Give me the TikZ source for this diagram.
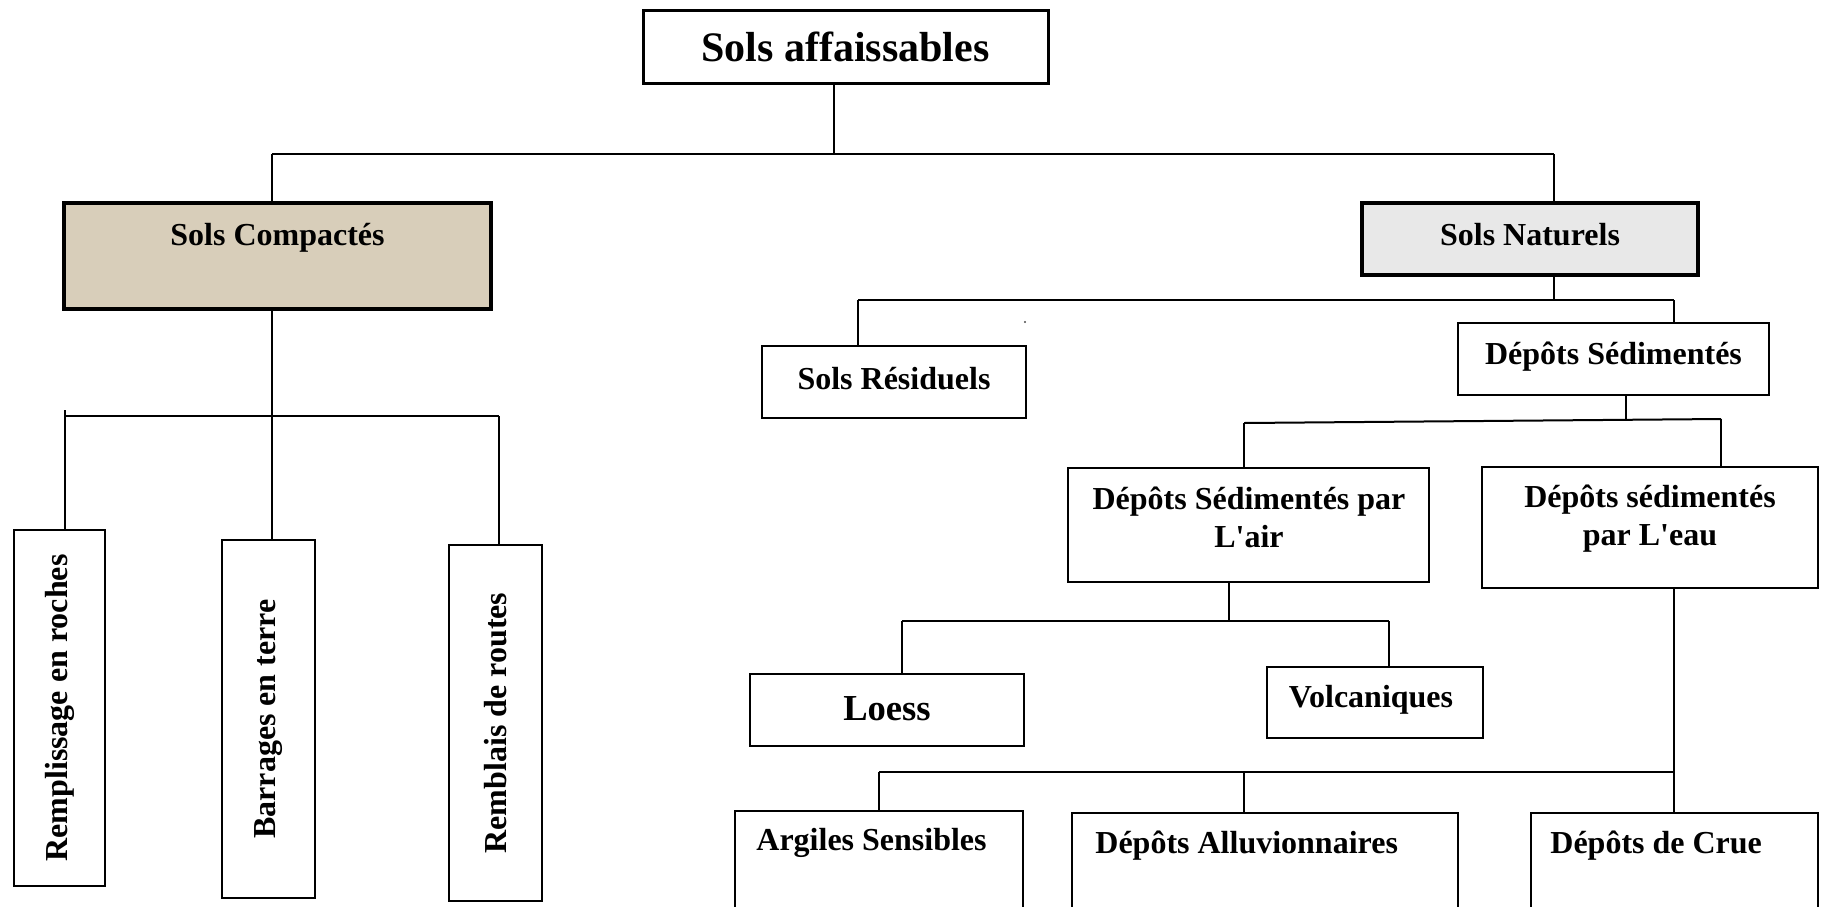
\documentclass[tikz,border=0pt]{standalone}
\usepackage{fontspec}
\setmainfont{Liberation Serif}
\definecolor{beige}{RGB}{216,206,186}
\definecolor{natgray}{RGB}{232,232,232}
\begin{document}
\begin{tikzpicture}[x=0.5pt,y=-0.5pt,
  box/.style={draw, line width=1pt, inner sep=0pt, rectangle},
  lnk/.style={line width=1pt},
  txt/.style={font=\fontsize{16}{19}\selectfont\bfseries, inner sep=0pt, align=center},
  vtxt/.style={txt, rotate=90},
]
\useasboundingbox (0,0) rectangle (1821,906);
\clip (0,0) rectangle (1821,906);
\fill[white] (0,0) rectangle (1821,906);

% boxes
\node[box, line width=1.5pt, minimum width=202.5pt, minimum height=36.5pt] (top) at (845.5,46.5) {};
\node[box, line width=2pt, fill=beige, minimum width=213.5pt, minimum height=53pt] (compact) at (277.5,256) {};
\node[box, line width=2pt, fill=natgray, minimum width=168pt, minimum height=36pt] (natur) at (1530,239) {};
\node[box, minimum width=132pt, minimum height=36pt] (resid) at (894,382) {};
\node[box, minimum width=155.5pt, minimum height=36pt] (depsed) at (1613.5,359) {};
\node[box, minimum width=180.5pt, minimum height=57pt] (air) at (1248.5,525) {};
\node[box, minimum width=168pt, minimum height=60.5pt] (eau) at (1650,527.5) {};
\node[box, minimum width=137pt, minimum height=36pt] (loess) at (887,710) {};
\node[box, minimum width=108pt, minimum height=35.5pt] (volc) at (1375,702.5) {};
\node[box, minimum width=144pt, minimum height=74pt] (argil) at (879,885) {};
\node[box, minimum width=193pt, minimum height=73.5pt] (alluv) at (1265,886.5) {};
\node[box, minimum width=143.5pt, minimum height=73.5pt] (crue) at (1674.5,886.5) {};
\node[box, minimum width=45.5pt, minimum height=178pt] (rempl) at (59.5,708) {};
\node[box, minimum width=46.5pt, minimum height=179pt] (barr) at (268.5,719) {};
\node[box, minimum width=46.5pt, minimum height=178pt] (rembl) at (495.5,723) {};

% texts
\node[txt, font=\fontsize{21}{25}\selectfont\bfseries, anchor=base] (ttop) at (845.5,61) {Sols affaissables};
\node[txt, anchor=base] (tcompact) at (277.5,245) {Sols Compactés};
\node[txt, anchor=base] (tnatur) at (1530,245) {Sols Naturels};
\node[txt, anchor=base] (tresid) at (894,389) {Sols Résiduels};
\node[txt, anchor=base] (tdepsed) at (1613.5,364) {Dépôts Sédimentés};
\node[txt] (tair) at (1249,517) {Dépôts Sédimentés par\\L\textquotesingle air};
\node[txt] (teau) at (1650,519) {Dépôts sédimentés\\par L\textquotesingle eau};
\node[txt, font=\fontsize{18.3}{22}\selectfont\bfseries, anchor=base] (tloess) at (887,720) {Loess};
\node[txt, anchor=base] (tvolc) at (1371,707) {Volcaniques};
\node[txt, anchor=base west] (targil) at (756,850) {Argiles Sensibles};
\node[txt, anchor=base west] (talluv) at (1095,853) {Dépôts Alluvionnaires};
\node[txt, anchor=base west] (tcrue) at (1550,853) {Dépôts de Crue};
\node[vtxt] (trempl) at (59.5,708) {Remplissage en roches};
\node[vtxt] (tbarr) at (268.5,719) {Barrages en terre};
\node[vtxt] (trembl) at (495.5,723) {Remblais de routes};

% junction coordinates
\coordinate (j0) at (834,154);
\coordinate (jC) at (272,154);
\coordinate (jN) at (1554,154);
\coordinate (k0) at (272,416);
\coordinate (kL) at (65,416);
\coordinate (kLt) at (65,410);
\coordinate (kR) at (499,416);
\coordinate (n0) at (1554,300);
\coordinate (nL) at (858,300);
\coordinate (nR) at (1674,300);
\coordinate (d0) at (1626,421);
\coordinate (dL) at (1244,423);
\coordinate (dR) at (1721,419);
\coordinate (a0) at (1229,621);
\coordinate (aL) at (902,621);
\coordinate (aR) at (1389,621);
\coordinate (e0) at (1674,772);
\coordinate (eL) at (879,772);
\coordinate (eM) at (1244,772);

% connectors
\draw[lnk] (top.south -| j0) -- (j0);
\draw[lnk] (jC) -- (jN);
\draw[lnk] (jC) -- (compact.north -| jC);
\draw[lnk] (jN) -- (natur.north -| jN);

\draw[lnk] (compact.south -| k0) -- (k0);
\draw[lnk] (kL) -- (kR);
\draw[lnk] (kLt) -- (rempl.north -| kL);
\draw[lnk] (k0) -- (barr.north -| k0);
\draw[lnk] (kR) -- (rembl.north -| kR);

\draw[lnk] (natur.south -| n0) -- (n0);
\draw[lnk] (nL) -- (nR);
\draw[lnk] (nL) -- (resid.north -| nL);
\draw[lnk] (nR) -- (depsed.north -| nR);

\draw[lnk] (depsed.south -| d0) -- (d0);
\draw[lnk] (dL) -- (dR);
\draw[lnk] (dL) -- (air.north -| dL);
\draw[lnk] (dR) -- (eau.north -| dR);

\draw[lnk] (air.south -| a0) -- (a0);
\draw[lnk] (aL) -- (aR);
\draw[lnk] (aL) -- (loess.north -| aL);
\draw[lnk] (aR) -- (volc.north -| aR);

\draw[lnk] (eau.south -| e0) -- (crue.north -| e0);
\draw[lnk] (eL) -- (e0);
\draw[lnk] (eL) -- (argil.north -| eL);
\draw[lnk] (eM) -- (alluv.north -| eM);

% stray dot
\fill[black!70] (1025,322) circle[radius=0.6pt];
\end{tikzpicture}
\end{document}
